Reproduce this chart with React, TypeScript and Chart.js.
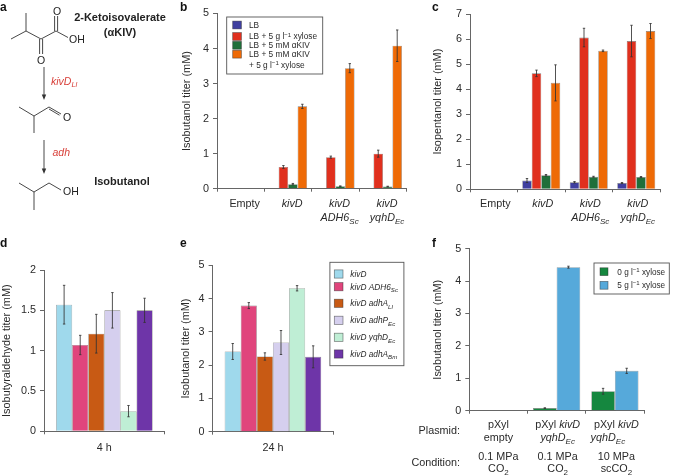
import React, { useEffect, useRef } from "react";
import { Chart, registerables } from "chart.js";

Chart.register(...registerables);

const FONT = "'Liberation Sans', Arial, sans-serif";
const TEXT = "#2a2a2a";
const AXIS = "#666666";
const EDGE = "rgba(45,45,45,0.62)";

// ---------- data ----------
const abCats = [["Empty"], ["*kivD*"], ["*kivD*", "*ADH6*~*Sc*~"], ["*kivD*", "*yqhD*~*Ec*~"]];

const bLB = [0, 0, 0.01, 0.01];
const bXyl = [0, 0.62, 0.9, 1.0];
const bKiv = [0, 0.13, 0.07, 0.06];
const bBoth = [0, 2.35, 3.44, 4.08];
const bLBErr = [0, 0, 0, 0];
const bXylErr = [0, 0.04, 0.03, 0.1];
const bKivErr = [0, 0.02, 0.01, 0.01];
const bBothErr = [0, 0.06, 0.13, 0.45];

const cLB = [0, 0.35, 0.28, 0.25];
const cXyl = [0, 4.63, 6.06, 5.92];
const cKiv = [0, 0.56, 0.5, 0.49];
const cBoth = [0, 4.25, 5.53, 6.32];
const cLBErr = [0, 0.08, 0.03, 0.02];
const cXylErr = [0, 0.13, 0.37, 0.63];
const cKivErr = [0, 0.03, 0.02, 0.02];
const cBothErr = [0, 0.72, 0.03, 0.3];

const strainNames = [
  "*kivD*",
  "*kivD ADH6*~*Sc*~",
  "*kivD adhA*~*Ll*~",
  "*kivD adhP*~*Ec*~",
  "*kivD yqhD*~*Ec*~",
  "*kivD adhA*~*Bm*~",
];
const d4h = [1.57, 1.07, 1.21, 1.5, 0.25, 1.5];
const d4hErr = [0.24, 0.12, 0.24, 0.22, 0.07, 0.15];
const e24h = [2.41, 3.79, 2.26, 2.68, 4.31, 2.25];
const e24hErr = [0.24, 0.09, 0.11, 0.36, 0.08, 0.33];

const fCats = [
  ["pXyl", "empty", "0.1 MPa", "CO~2~"],
  ["pXyl *kivD*", "*yqhD*~*Ec*~", "0.1 MPa", "CO~2~"],
  ["pXyl *kivD*", "*yqhD*~*Ec*~", "10 MPa", "scCO~2~"],
];
const f0g = [0, 0.08, 0.6];
const f5g = [0, 4.43, 1.23];
const f0gErr = [0, 0.01, 0.09];
const f5gErr = [0, 0.03, 0.08];

const bcLegend = ["LB", "LB + 5 g l^−1^ xylose", "LB + 5 mM αKIV", "LB + 5 mM αKIV", "+ 5 g l^−1^ xylose"];
const fLegend = ["0 g l^−1^ xylose", "5 g l^−1^ xylose"];

// ---------- colours ----------
const bcColors = ["#3f3fa0", "#e0301e", "#1f6f3a", "#ee6a06"];
const strainColors = ["#9fd9ec", "#e0457c", "#c85a14", "#d5cfee", "#bfeed5", "#6e35a8"];
const fColors = ["#15873f", "#56a9da"];

// ---------- rich text on canvas: *italic*, ~sub~, ^sup^ ----------
type Run = { t: string; i: boolean; s: number };
function parseRich(src: string): Run[] {
  const out: Run[] = [];
  let i = false, s = 0, cur = "";
  const flush = () => { if (cur) out.push({ t: cur, i, s }); cur = ""; };
  for (const ch of src) {
    if (ch === "*") { flush(); i = !i; }
    else if (ch === "~") { flush(); s = s === -1 ? 0 : -1; }
    else if (ch === "^") { flush(); s = s === 1 ? 0 : 1; }
    else cur += ch;
  }
  flush();
  return out;
}
function fontOf(r: Run, size: number) {
  const px = r.s === 0 ? size : size * 0.74;
  return `${r.i ? "italic " : ""}${px}px ${FONT}`;
}
function drawRich(ctx: CanvasRenderingContext2D, src: string, x: number, y: number, size: number, align: "left" | "center" | "right") {
  const runs = parseRich(src);
  ctx.save();
  ctx.textBaseline = "alphabetic";
  ctx.textAlign = "left";
  ctx.fillStyle = TEXT;
  let w = 0;
  for (const r of runs) { ctx.font = fontOf(r, size); w += ctx.measureText(r.t).width; }
  let px = align === "left" ? x : align === "center" ? x - w / 2 : x - w;
  const base = y + size * 0.36;
  for (const r of runs) {
    ctx.font = fontOf(r, size);
    const off = r.s === -1 ? size * 0.28 : r.s === 1 ? -size * 0.36 : 0;
    ctx.fillText(r.t, px, base + off);
    px += ctx.measureText(r.t).width;
  }
  ctx.restore();
}
const plain = (s: string) => s.replace(/[*~^]/g, "");

// ---------- panel layout, page coordinates ----------
type Legend = {
  box: [number, number, number, number];
  swatchX: number; swatchW: number; swatchH: number; textX: number; size: number;
  rows: { text: string; y: number; color?: string }[];
};
type Panel = {
  left: number; top: number; width: number; height: number;
  plot: [number, number, number, number]; // left, top, right, bottom
  yMax: number; yStep: number; yTitle: string;
  cats: string[][]; catPct: number;
  series: { label: string; data: number[]; errors: number[]; color: string }[];
  lineY: number[]; labelDx: (cat: number, line: number) => number; labelSize: number;
  legend?: Legend;
};

const panels: Panel[] = [
  {
    left: 180, top: 0, width: 240, height: 235,
    plot: [217, 13.5, 406.7, 188.7], yMax: 5, yStep: 1, yTitle: "Isobutanol titer (mM)",
    cats: abCats, catPct: 0.8,
    series: [
      { label: plain(bcLegend[0]), data: bLB, errors: bLBErr, color: bcColors[0] },
      { label: plain(bcLegend[1]), data: bXyl, errors: bXylErr, color: bcColors[1] },
      { label: plain(bcLegend[2]), data: bKiv, errors: bKivErr, color: bcColors[2] },
      { label: plain(bcLegend[3] + " " + bcLegend[4]), data: bBoth, errors: bBothErr, color: bcColors[3] },
    ],
    lineY: [202.7, 217], labelDx: () => 4, labelSize: 10.8,
    legend: {
      box: [226.7, 17, 322.7, 74], swatchX: 232.7, swatchW: 8.7, swatchH: 7.8, textX: 249, size: 8.3,
      rows: [
        { text: bcLegend[0], y: 25, color: bcColors[0] },
        { text: bcLegend[1], y: 36.5, color: bcColors[1] },
        { text: bcLegend[2], y: 45.3, color: bcColors[2] },
        { text: bcLegend[3], y: 54.2, color: bcColors[3] },
        { text: bcLegend[4], y: 65 },
      ],
    },
  },
  {
    left: 431, top: 0, width: 244, height: 235,
    plot: [470, 14, 660, 189.3], yMax: 7, yStep: 1, yTitle: "Isopentanol titer (mM)",
    cats: abCats, catPct: 0.8,
    series: [
      { label: plain(bcLegend[0]), data: cLB, errors: cLBErr, color: bcColors[0] },
      { label: plain(bcLegend[1]), data: cXyl, errors: cXylErr, color: bcColors[1] },
      { label: plain(bcLegend[2]), data: cKiv, errors: cKivErr, color: bcColors[2] },
      { label: plain(bcLegend[3] + " " + bcLegend[4]), data: cBoth, errors: cBothErr, color: bcColors[3] },
    ],
    lineY: [203.5, 217.5], labelDx: () => 1.5, labelSize: 10.8,
  },
  {
    left: 0, top: 235, width: 175, height: 240,
    plot: [44, 270, 164.7, 431.3], yMax: 2, yStep: 0.5, yTitle: "Isobutyraldehyde titer (mM)",
    cats: [["4 h"]], catPct: 0.8,
    series: strainNames.map((n, i) => ({ label: plain(n), data: [d4h[i]], errors: [d4hErr[i]], color: strainColors[i] })),
    lineY: [446.7], labelDx: () => 0, labelSize: 10.8,
  },
  {
    left: 179.4, top: 235, width: 240, height: 240,
    plot: [213, 265.3, 333.7, 431.7], yMax: 5, yStep: 1, yTitle: "Isobutanol titer (mM)",
    cats: [["24 h"]], catPct: 0.8,
    series: strainNames.map((n, i) => ({ label: plain(n), data: [e24h[i]], errors: [e24hErr[i]], color: strainColors[i] })),
    lineY: [446.7], labelDx: () => 0, labelSize: 10.8,
    legend: {
      box: [330.3, 262.3, 404.3, 365.7], swatchX: 334.7, swatchW: 8.7, swatchH: 8.2, textX: 350.7, size: 8.3,
      rows: [274, 286.7, 303.3, 320.3, 337.3, 354].map((y, i) => ({ text: strainNames[i], y, color: strainColors[i] })),
    },
  },
  {
    left: 431, top: 235, width: 244, height: 240,
    plot: [469.3, 248.7, 644, 410.7], yMax: 5, yStep: 1, yTitle: "Isobutanol titer (mM)",
    cats: fCats, catPct: 0.81,
    series: [
      { label: plain(fLegend[0]), data: f0g, errors: f0gErr, color: fColors[0] },
      { label: plain(fLegend[1]), data: f5g, errors: f5gErr, color: fColors[1] },
    ],
    lineY: [423.7, 437, 455.7, 468.5],
    labelDx: (c, l) => (c === 2 && l === 1 ? -7 : c === 2 ? 1.5 : c === 1 ? 1 : 0),
    labelSize: 10.8,
    legend: {
      box: [594, 263, 669.3, 294], swatchX: 600, swatchW: 8, swatchH: 7.8, textX: 617.3, size: 8.2,
      rows: [
        { text: fLegend[0], y: 271.7, color: fColors[0] },
        { text: fLegend[1], y: 285.3, color: fColors[1] },
      ],
    },
  },
];

function buildChart(canvas: HTMLCanvasElement, p: Panel) {
  const [pl, pt, pr, pb] = p.plot;
  const errorBars = {
    id: "errorBars",
    afterDatasetsDraw(chart: any) {
      const { ctx } = chart;
      const y = chart.scales.y;
      ctx.save();
      ctx.strokeStyle = "#333333";
      ctx.lineWidth = 0.85;
      chart.data.datasets.forEach((ds: any, di: number) => {
        const meta = chart.getDatasetMeta(di);
        meta.data.forEach((bar: any, i: number) => {
          const e = ds.errors[i];
          if (!e) return;
          const hi = y.getPixelForValue(ds.data[i] + e);
          const lo = y.getPixelForValue(Math.max(ds.data[i] - e, 0));
          ctx.beginPath();
          ctx.moveTo(bar.x, hi); ctx.lineTo(bar.x, lo);
          ctx.moveTo(bar.x - 1.2, hi); ctx.lineTo(bar.x + 1.2, hi);
          ctx.moveTo(bar.x - 1.2, lo); ctx.lineTo(bar.x + 1.2, lo);
          ctx.stroke();
        });
      });
      ctx.restore();
    },
  };
  const richLabels = {
    id: "richLabels",
    afterDraw(chart: any) {
      const { ctx } = chart;
      const x = chart.scales.x;
      p.cats.forEach((lines, c) => {
        const cx = x.getPixelForValue(c);
        lines.forEach((txt, l) => {
          drawRich(ctx, txt, cx + p.labelDx(c, l), p.lineY[l] - p.top, p.labelSize, "center");
        });
      });
      const lg = p.legend;
      if (lg) {
        const [x0, y0, x1, y1] = lg.box;
        ctx.save();
        ctx.fillStyle = "#ffffff";
        ctx.strokeStyle = "#555555";
        ctx.lineWidth = 0.9;
        ctx.fillRect(x0 - p.left, y0 - p.top, x1 - x0, y1 - y0);
        ctx.strokeRect(x0 - p.left, y0 - p.top, x1 - x0, y1 - y0);
        lg.rows.forEach((r) => {
          if (r.color) {
            ctx.fillStyle = r.color;
            ctx.strokeStyle = EDGE;
            ctx.lineWidth = 0.7;
            const sx = lg.swatchX - p.left, sy = r.y - lg.swatchH / 2 - p.top;
            ctx.fillRect(sx, sy, lg.swatchW, lg.swatchH);
            ctx.strokeRect(sx, sy, lg.swatchW, lg.swatchH);
          }
          drawRich(ctx, r.text, lg.textX - p.left, r.y - p.top, lg.size, "left");
        });
        ctx.restore();
      }
    },
  };
  return new Chart(canvas, {
    type: "bar",
    data: {
      labels: p.cats.map((l) => plain(l.join(" "))),
      datasets: p.series.map((s) => ({
        label: s.label,
        data: s.data,
        errors: s.errors,
        backgroundColor: s.color,
        borderColor: EDGE,
        borderWidth: 0.6,
        categoryPercentage: p.catPct,
        barPercentage: 1,
      })) as any,
    },
    options: {
      responsive: false,
      animation: false,
      devicePixelRatio: 1,
      layout: {
        padding: {
          left: 0,
          top: pt - p.top,
          right: p.left + p.width - pr,
          bottom: 0,
        },
      },
      plugins: { legend: { display: false }, tooltip: { enabled: false } },
      scales: {
        x: {
          type: "category",
          afterFit: (s: any) => { s.height = p.top + p.height - pb; },
          ticks: { display: false },
          border: { color: AXIS, width: 1 },
          grid: { drawOnChartArea: false, drawTicks: true, tickLength: 3, color: AXIS, lineWidth: 1, offset: true },
        },
        y: {
          min: 0,
          max: p.yMax,
          afterFit: (s: any) => { s.width = pl - p.left; },
          ticks: {
            stepSize: p.yStep,
            padding: 4,
            color: TEXT,
            font: { family: FONT, size: 10.8 },
            callback: (v: any) => String(v),
          },
          title: {
            display: true,
            text: p.yTitle,
            color: TEXT,
            padding: 0,
            font: { family: FONT, size: 10.9 },
          },
          border: { color: AXIS, width: 1 },
          grid: { drawOnChartArea: false, drawTicks: true, tickLength: 4, color: AXIS, lineWidth: 1 },
        },
      },
    },
    plugins: [errorBars, richLabels],
  } as any);
}

function PanelChart({ p }: { p: Panel }) {
  const ref = useRef<HTMLCanvasElement | null>(null);
  useEffect(() => {
    const chart = buildChart(ref.current!, p);
    return () => chart.destroy();
  }, [p]);
  return (
    <canvas
      ref={ref}
      width={p.width}
      height={p.height}
      style={{ position: "absolute", left: p.left, top: p.top, width: p.width, height: p.height }}
    />
  );
}

// ---------- panel a, panel letters, row heads ----------
const stroke = { stroke: "#333", strokeWidth: 0.9, fill: "none" } as const;
const chemText = { fontFamily: FONT, fontSize: 10.5, fill: "#222" } as const;
const boldText = { fontFamily: FONT, fontSize: 11, fontWeight: 700, fill: "#222", textAnchor: "middle" } as const;
const letter = { fontFamily: FONT, fontSize: 12, fontWeight: 700, fill: "#111" } as const;
const red = { fontFamily: FONT, fontSize: 10.5, fontStyle: "italic", fill: "#d8403a" } as const;
const head = { fontFamily: FONT, fontSize: 10.8, fill: TEXT, textAnchor: "end" } as const;

function Overlay() {
  return (
    <svg width={675} height={475} style={{ position: "absolute", left: 0, top: 0, pointerEvents: "none" }}>
      <text x={0} y={11} {...letter}>a</text>
      <text x={180} y={10.5} {...letter}>b</text>
      <text x={432} y={11} {...letter}>c</text>
      <text x={0} y={247} {...letter}>d</text>
      <text x={180} y={247} {...letter}>e</text>
      <text x={432} y={247} {...letter}>f</text>

      <path d="M26 13V31M11 39L26 31L41 39L56 31L68 37.5M54.6 31V16M57.6 31V16M39.6 39V54M42.6 39V54" {...stroke} />
      <text x={53} y={15} {...chemText}>O</text>
      <text x={69} y={43} {...chemText}>OH</text>
      <text x={37} y={64} {...chemText}>O</text>
      <text x={120} y={21} {...boldText}>2-Ketoisovalerate</text>
      <text x={120} y={35.5} {...boldText}>(αKIV)</text>

      <path d="M44 67V95" {...stroke} />
      <path d="M41.8 94.5H46.2L44 100Z" fill="#333" />
      <text x={51} y={85} {...red}>kivD<tspan fontSize={7.5} dy={2}>Ll</tspan></text>

      <path d="M19 107L34 116L49 107L61 114M49 109L59.5 115.2M34 116V133" {...stroke} />
      <text x={63} y={120.5} {...chemText}>O</text>

      <path d="M44 140V169" {...stroke} />
      <path d="M41.8 168.5H46.2L44 174Z" fill="#333" />
      <text x={52.5} y={155.5} {...red}>adh</text>

      <path d="M19 183L34 192L49 183L61 190M34 192V210" {...stroke} />
      <text x={63} y={195} {...chemText}>OH</text>
      <text x={122} y={185} {...boldText}>Isobutanol</text>

      <text x={460} y={434} {...head}>Plasmid:</text>
      <text x={460} y={465.5} {...head}>Condition:</text>
    </svg>
  );
}

export default function App() {
  return (
    <div style={{ position: "fixed", left: 0, top: 0, width: 675, height: 475, background: "#fff", overflow: "hidden" }}>
      {panels.map((p, i) => (
        <PanelChart key={i} p={p} />
      ))}
      <Overlay />
    </div>
  );
}
